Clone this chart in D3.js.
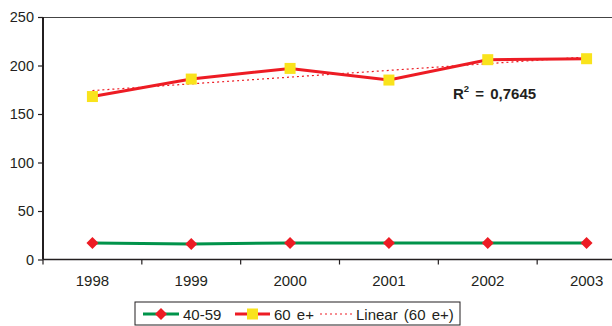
<!DOCTYPE html>
<html>
<head>
<meta charset="utf-8">
<script src="https://cdn.jsdelivr.net/npm/d3@7"></script>
<style>
  html, body { margin: 0; padding: 0; background: #fff; }
  svg { display: block; font-family: "Liberation Sans", Arial, sans-serif; }
</style>
</head>
<body>
<svg id="chart" width="612" height="326"></svg>
<script>
// Years on the category axis
const years = ["1998", "1999", "2000", "2001", "2002", "2003"];
// Age group 40-59
const group4059 = [17, 16, 17, 17, 17, 17];
// Age group 60 and over
const group60 = [168, 186, 197, 185, 206, 207];
// Value axis ticks
const yTicks = [0, 50, 100, 150, 200, 250];
// Legend entries
const legendLabels = ["40-59", "60 e+", "Linear (60 e+)"];
const r2Label = "0,7645";

const ink = "#231f20";
const red = "#ed1c24";
const green = "#00934a";
const yellow = "#f9e31c";

const svg = d3.select("#chart");
const plotLeft = 43, plotTop = 17, plotBottom = 259.5, plotRight = 636;

const x = d3.scaleBand().domain(years).range([plotLeft, plotRight]);
const y = d3.scaleLinear().domain([0, 250]).range([plotBottom, plotTop]);
const cx = d => x(d) + x.bandwidth() / 2;

// Plot frame: top border
svg.append("line")
  .attr("x1", plotLeft).attr("x2", 612)
  .attr("y1", plotTop + 0.5).attr("y2", plotTop + 0.5)
  .attr("stroke", "#444").attr("stroke-width", 1);

// Y axis
const yAxis = svg.append("g")
  .attr("transform", `translate(${plotLeft},0)`)
  .call(d3.axisLeft(y).tickValues(yTicks).tickSize(5).tickPadding(4));
yAxis.select(".domain").attr("stroke", ink).attr("stroke-width", 2)
  .attr("d", `M0,${plotTop}V${plotBottom}`);
yAxis.selectAll(".tick line").attr("stroke", ink).attr("stroke-width", 1.2);
yAxis.selectAll(".tick text").attr("fill", ink).attr("font-size", 14.5)
  .attr("font-family", "Liberation Sans, Arial, sans-serif");

// X axis with ticks at category boundaries
const xAxis = svg.append("g")
  .attr("transform", `translate(0,${plotBottom})`);
xAxis.append("line")
  .attr("x1", plotLeft).attr("x2", 612).attr("y1", 0).attr("y2", 0)
  .attr("stroke", ink).attr("stroke-width", 1.5);
xAxis.selectAll("line.tk").data(years)
  .join("line").attr("class", "tk")
  .attr("x1", d => x(d)).attr("x2", d => x(d))
  .attr("y1", 0).attr("y2", 5)
  .attr("stroke", ink).attr("stroke-width", 1.2);
xAxis.selectAll("text").data(years)
  .join("text")
  .attr("x", d => cx(d)).attr("y", 26)
  .attr("text-anchor", "middle").attr("font-size", 15).attr("fill", ink)
  .text(d => d);

// Linear trend of the 60+ series
const n = group60.length;
const xs = d3.range(1, n + 1);
const mx = d3.mean(xs), my = d3.mean(group60);
const sxy = d3.sum(xs, (v, i) => (v - mx) * (group60[i] - my));
const sxx = d3.sum(xs, v => (v - mx) ** 2);
const slope = sxy / sxx, icpt = my - slope * mx;

svg.append("line")
  .attr("x1", cx(years[0])).attr("y1", y(icpt + slope * 1))
  .attr("x2", cx(years[n - 1])).attr("y2", y(icpt + slope * n))
  .attr("stroke", red).attr("stroke-width", 1.2)
  .attr("stroke-dasharray", "2,3");

const line = d3.line().x((d, i) => cx(years[i])).y(d => y(d));

// 60+ series
svg.append("path").datum(group60)
  .attr("d", line).attr("fill", "none")
  .attr("stroke", red).attr("stroke-width", 3);
svg.selectAll("rect.m60").data(group60)
  .join("rect").attr("class", "m60")
  .attr("x", (d, i) => cx(years[i]) - 5.5).attr("y", d => y(d) - 5.5)
  .attr("width", 11).attr("height", 11).attr("fill", yellow);

// 40-59 series
svg.append("path").datum(group4059)
  .attr("d", line).attr("fill", "none")
  .attr("stroke", green).attr("stroke-width", 3);
const diamond = "M0,-6L6,0L0,6L-6,0Z";
svg.selectAll("path.m40").data(group4059)
  .join("path").attr("class", "m40")
  .attr("transform", (d, i) => `translate(${cx(years[i])},${y(d)})`)
  .attr("d", diamond).attr("fill", red);

// R² annotation
const r2 = svg.append("text")
  .attr("x", 453).attr("y", 99)
  .attr("font-size", 15).attr("font-weight", "bold").attr("fill", ink)
  .attr("word-spacing", 2);
r2.append("tspan").text("R");
r2.append("tspan").attr("font-size", 9.5).attr("dy", -7).text("2");
r2.append("tspan").attr("dy", 7).text(" = " + r2Label);

// Legend
const lg = svg.append("g")
  .attr("font-size", 15).attr("fill", ink).attr("word-spacing", 2);
lg.append("rect")
  .attr("x", 135).attr("y", 302).attr("width", 325).attr("height", 23)
  .attr("fill", "#fff").attr("stroke", ink).attr("stroke-width", 1);

const ly = 314;
lg.append("line").attr("x1", 143).attr("x2", 179).attr("y1", ly).attr("y2", ly)
  .attr("stroke", green).attr("stroke-width", 3);
lg.append("path").attr("transform", `translate(161,${ly})`).attr("d", diamond).attr("fill", red);
lg.append("text").attr("x", 183).attr("y", ly + 5.5).text(legendLabels[0]);

lg.append("line").attr("x1", 235).attr("x2", 270).attr("y1", ly).attr("y2", ly)
  .attr("stroke", red).attr("stroke-width", 3);
lg.append("rect").attr("x", 247).attr("y", ly - 5.5).attr("width", 11).attr("height", 11)
  .attr("fill", yellow);
lg.append("text").attr("x", 274).attr("y", ly + 5.5).text(legendLabels[1]);

lg.append("line").attr("x1", 320).attr("x2", 352).attr("y1", ly).attr("y2", ly)
  .attr("stroke", red).attr("stroke-width", 1.2).attr("stroke-dasharray", "2,3");
lg.append("text").attr("x", 356).attr("y", ly + 5.5).text(legendLabels[2]);
</script>
</body>
</html>
